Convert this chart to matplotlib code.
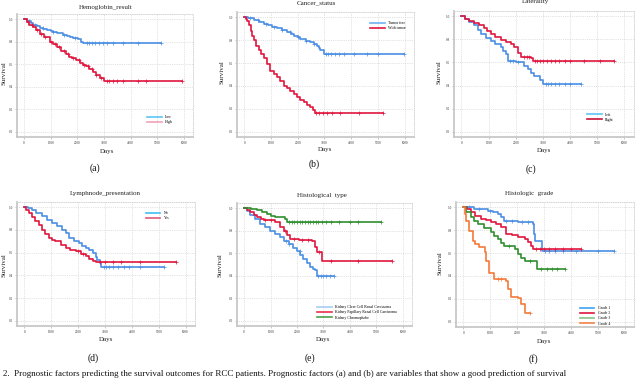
import matplotlib
matplotlib.use('Agg')
import matplotlib.pyplot as plt
from matplotlib.lines import Line2D
import numpy as np

plt.rcParams['font.family'] = ['Liberation Serif', 'DejaVu Serif']

# ---- Data ----
# (a) Hemoglobin_result
a_low_t = [0, 120, 250, 340, 480, 600, 710, 850, 1000, 1090, 1250, 1460, 1600, 1710, 1850, 2025, 2120, 2210, 2300]
a_low_s = [1.0, 0.985, 0.965, 0.947, 0.935, 0.925, 0.915, 0.905, 0.895, 0.888, 0.875, 0.86, 0.85, 0.838, 0.83, 0.82, 0.80, 0.79, 0.785]
a_low_end = 5150
a_low_c = [200, 400, 700, 1100, 1500, 1900, 2350, 2450, 2550, 2650, 2800, 2950, 3100, 3350, 3700, 4300, 5150]
a_high_t = [0, 100, 200, 340, 450, 600, 750, 960, 1100, 1250, 1400, 1590, 1700, 1800, 1960, 2100, 2200, 2340, 2450, 2590, 2700, 2840, 2990]
a_high_s = [1.0, 0.975, 0.95, 0.926, 0.90, 0.87, 0.84, 0.80, 0.775, 0.75, 0.72, 0.69, 0.665, 0.655, 0.64, 0.61, 0.595, 0.58, 0.56, 0.535, 0.50, 0.476, 0.447]
a_high_end = 5940
a_high_c = [150, 300, 500, 650, 800, 1000, 1150, 1300, 1500, 1650, 1850, 2050, 2250, 2400, 2550, 2700, 2900,
            3100, 3200, 3350, 3500, 3700, 4300, 4600, 5940]

# (b) Cancer_status
b_free_t = [0, 150, 360, 550, 730, 900, 1050, 1230, 1400, 1600, 1750, 1850, 2000, 2100, 2300, 2470, 2600, 2720, 2800, 2850, 2970]
b_free_s = [1.0, 0.99, 0.977, 0.96, 0.94, 0.93, 0.918, 0.907, 0.89, 0.87, 0.855, 0.84, 0.825, 0.81, 0.795, 0.78, 0.765, 0.75, 0.73, 0.71, 0.68]
b_free_end = 5975
b_free_c = [200, 500, 800, 1100, 1400, 1700, 2000, 2300, 2600, 3050, 3150, 3250, 3400, 3550, 3750, 4100, 4600, 5000, 5975]
b_tumor_t = [0, 50, 110, 180, 236, 300, 360, 450, 550, 640, 730, 850, 980, 1100, 1230, 1350, 1480, 1600, 1730, 1850,
             1975, 2100, 2220, 2350, 2470, 2560, 2660]
b_tumor_s = [1.0, 0.985, 0.97, 0.93, 0.883, 0.84, 0.80, 0.75, 0.71, 0.675, 0.64, 0.59, 0.534, 0.505, 0.475, 0.44, 0.40,
             0.38, 0.36, 0.33, 0.30, 0.28, 0.257, 0.235, 0.213, 0.19, 0.16]
b_tumor_end = 5180
b_tumor_c = [2700, 2800, 2950, 3100, 3300, 3600, 4300, 5180]

# (c) Laterality
c_left_t = [0, 150, 300, 470, 600, 720, 900, 1090, 1250, 1460, 1550, 1640, 1700, 2000, 2200, 2300, 2440, 2550, 2690, 2880, 3000]
c_left_s = [1.0, 0.975, 0.95, 0.92, 0.88, 0.845, 0.815, 0.787, 0.76, 0.73, 0.70, 0.67, 0.61, 0.605, 0.60, 0.57, 0.54, 0.51, 0.48, 0.45, 0.414]
c_left_end = 4400
c_left_c = [1800, 1900, 2100, 3100, 3200, 3300, 3450, 3600, 3800, 4000, 4400]
c_right_t = [0, 150, 300, 470, 650, 840, 950, 1090, 1250, 1460, 1650, 1830, 1950, 2070, 2200, 2570, 2630]
c_right_s = [1.0, 0.98, 0.96, 0.94, 0.92, 0.90, 0.87, 0.845, 0.82, 0.79, 0.775, 0.76, 0.73, 0.685, 0.647, 0.64, 0.615]
c_right_end = 5630
c_right_c = [2300, 2400, 2500, 2700, 2800, 2900, 3000, 3150, 3300, 3450, 3600, 3800, 4000, 4500, 5100, 5630]

# (d) Lymphnode_presentation
d_no_t = [0, 150, 290, 450, 660, 850, 1040, 1230, 1410, 1550, 1660, 1850, 2040, 2150, 2290, 2400, 2540, 2650, 2720, 2800, 2850]
d_no_s = [1.0, 0.99, 0.977, 0.95, 0.918, 0.89, 0.86, 0.83, 0.80, 0.77, 0.727, 0.705, 0.683, 0.66, 0.64, 0.62, 0.595,
          0.565, 0.537, 0.51, 0.472]
d_no_end = 5190
d_no_c = [2950, 3050, 3150, 3300, 3500, 3700, 3900, 4300, 5190]
d_yes_t = [0, 80, 160, 280, 410, 540, 660, 780, 910, 1040, 1160, 1350, 1540, 1700, 1910, 2100, 2290, 2420, 2540, 2660]
d_yes_s = [1.0, 0.975, 0.947, 0.91, 0.874, 0.84, 0.80, 0.765, 0.727, 0.71, 0.70, 0.67, 0.64, 0.625, 0.61, 0.59, 0.566,
           0.545, 0.522, 0.516]
d_yes_end = 5625
d_yes_c = [2000, 2200, 2800, 3000, 3300, 3600, 4300, 5625]

# (e) Histological type
e_clear_t = [0, 100, 240, 420, 610, 800, 990, 1180, 1370, 1520, 1680, 1850, 1990, 2120, 2240, 2370, 2490, 2600, 2680, 2770]
e_clear_s = [1.0, 0.97, 0.938, 0.90, 0.86, 0.83, 0.80, 0.77, 0.74, 0.71, 0.685, 0.65, 0.62, 0.585, 0.55, 0.515, 0.478,
             0.46, 0.448, 0.40]
e_clear_end = 3410
e_clear_c = [1600, 1700, 2100, 2800, 2900, 3000, 3100, 3250, 3410]
e_pap_t = [0, 120, 240, 360, 490, 620, 740, 1180, 1370, 1500, 1620, 1740, 2060, 2560, 2680, 2740, 2960]
e_pap_s = [1.0, 0.985, 0.967, 0.94, 0.92, 0.90, 0.89, 0.878, 0.834, 0.80, 0.76, 0.73, 0.715, 0.71, 0.656, 0.61, 0.53]
e_pap_end = 5600
e_pap_c = [800, 1000, 1550, 1900, 2200, 2400, 2850, 3300, 4300, 5600]
e_chromo_t = [0, 250, 490, 680, 860, 1000, 1180, 1550, 1640]
e_chromo_s = [1.0, 0.99, 0.98, 0.965, 0.95, 0.93, 0.917, 0.90, 0.878]
e_chromo_end = 5190
e_chromo_c = [1700, 1800, 1900, 2000, 2100, 2200, 2300, 2400, 2500, 2600, 2700, 2800, 2950, 3100, 3300, 3600, 4000, 4300, 5190]

# (f) Histologic grade
f_g1_t = [0, 410, 910, 1100, 1280, 1400, 1530, 2030, 2590, 2630, 2660, 2930]
f_g1_s = [1.0, 0.985, 0.97, 0.955, 0.94, 0.91, 0.883, 0.87, 0.854, 0.767, 0.708, 0.615]
f_g1_end = 5590
f_g1_c = [200, 600, 1000, 1600, 1800, 2200, 2400, 3050, 3200, 3400, 3700, 4200, 5000, 5590]
f_g2_t = [0, 150, 290, 450, 660, 850, 1030, 1200, 1410, 1600, 1800, 2030, 2280, 2400, 2530, 2590]
f_g2_s = [1.0, 0.98, 0.956, 0.925, 0.898, 0.885, 0.869, 0.85, 0.825, 0.767, 0.755, 0.738, 0.723, 0.70, 0.665, 0.636]
f_g2_end = 4380
f_g2_c = [2700, 2850, 3000, 3200, 3400, 3700, 4000, 4380]
f_g3_t = [0, 100, 290, 400, 540, 780, 1030, 1150, 1280, 1400, 1530, 1910, 2030, 2150, 2280, 2740]
f_g3_s = [1.0, 0.96, 0.912, 0.88, 0.854, 0.815, 0.78, 0.75, 0.723, 0.69, 0.665, 0.636, 0.592, 0.56, 0.534, 0.46]
f_g3_end = 3800
f_g3_c = [1700, 2500, 2900, 3100, 3300, 3500, 3800]
f_g4_t = [0, 50, 100, 220, 350, 450, 600, 790, 850, 970, 1160, 1600, 1660, 1780, 2030, 2160, 2310]
f_g4_s = [1.0, 0.94, 0.88, 0.796, 0.708, 0.68, 0.65, 0.606, 0.534, 0.43, 0.373, 0.359, 0.286, 0.213, 0.207, 0.155, 0.076]
f_g4_end = 2470
f_g4_c = [1300, 1400, 2470]

x_ticks = [0, 1000, 2000, 3000, 4000, 5000, 6000]
y_ticks = [0.0, 0.2, 0.4, 0.6, 0.8, 1.0]

BLUE = '#4a8fe3'
RED = '#e0163e'
GREEN = '#2f8f2f'
ORANGE = '#f47a3a'

W, H = 640, 379

# panels: title, label, axes box in pixels (x0, x1, ytop, ybottom), curves, legend entries
panels = [
    dict(title='Hemoglobin_result', tag='(a)', box=(17, 193, 14, 137), title_xy=(106, 7), tag_xy=(95, 168),
         days_xy=(107, 152), surv_xy=(4, 73),
         curves=[(a_low_t, a_low_s, a_low_end, a_low_c, BLUE), (a_high_t, a_high_s, a_high_end, a_high_c, RED)],
         legend=[('Low', '#5cc6f7'), ('High', '#f2a0b4')], loc='lower right', anchor=(0.90, 0.08)),
    dict(title='Cancer_status', tag='(b)', box=(237, 414, 12, 137), title_xy=(316, 3), tag_xy=(314, 164),
         days_xy=(325, 150), surv_xy=(222, 72),
         curves=[(b_free_t, b_free_s, b_free_end, b_free_c, BLUE), (b_tumor_t, b_tumor_s, b_tumor_end, b_tumor_c, RED)],
         legend=[('Tumor free', '#6fb3f2'), ('With tumor', RED)], loc='upper right', anchor=(0.97, 0.95)),
    dict(title='Laterality', tag='(c)', box=(454, 634, 11, 137), title_xy=(535, 2), tag_xy=(531, 169),
         days_xy=(544, 151), surv_xy=(439, 72),
         curves=[(c_left_t, c_left_s, c_left_end, c_left_c, BLUE), (c_right_t, c_right_s, c_right_end, c_right_c, RED)],
         legend=[('Left', '#5cc6f7'), ('Right', '#c8103a')], loc='lower right', anchor=(0.90, 0.10)),
    dict(title='Lymphnode_presentation', tag='(d)', box=(17, 195, 202, 326), title_xy=(105, 194), tag_xy=(93, 358),
         days_xy=(106, 340), surv_xy=(4, 265),
         curves=[(d_no_t, d_no_s, d_no_end, d_no_c, BLUE), (d_yes_t, d_yes_s, d_yes_end, d_yes_c, RED)],
         legend=[('No', '#3fbff2'), ('Yes', '#e2587a')], loc='upper right', anchor=(0.87, 0.95)),
    dict(title='Histological  type', tag='(e)', box=(237, 412, 203, 326), title_xy=(322, 195), tag_xy=(310, 358),
         days_xy=(323, 340), surv_xy=(220, 265),
         curves=[(e_clear_t, e_clear_s, e_clear_end, e_clear_c, BLUE), (e_pap_t, e_pap_s, e_pap_end, e_pap_c, RED),
                 (e_chromo_t, e_chromo_s, e_chromo_end, e_chromo_c, GREEN)],
         legend=[('Kidney Clear Cell Renal Carcinoma', '#a8cdf2'), ('Kidney Papillary Renal Cell Carcinoma', '#e8304c'),
                 ('Kidney Chromophobe', '#4e9e4e')], loc='lower right', anchor=(0.93, 0.03)),
    dict(title='Histologic  grade', tag='(f)', box=(456, 634, 202, 327), title_xy=(529, 194), tag_xy=(533, 359),
         days_xy=(544, 341), surv_xy=(440, 263),
         curves=[(f_g1_t, f_g1_s, f_g1_end, f_g1_c, BLUE), (f_g2_t, f_g2_s, f_g2_end, f_g2_c, RED),
                 (f_g3_t, f_g3_s, f_g3_end, f_g3_c, GREEN), (f_g4_t, f_g4_s, f_g4_end, f_g4_c, ORANGE)],
         legend=[('Grade 1', '#3ea2f2'), ('Grade 2', '#e0143e'), ('Grade 3', '#86c486'), ('Grade 4', '#f2824a')],
         loc='lower right', anchor=(0.88, -0.01)),
]

fig = plt.figure(figsize=(W / 100, H / 100), dpi=100)

for p in panels:
    x0, x1, yt, yb = p['box']
    ax = fig.add_axes([x0 / W, 1 - yb / H, (x1 - x0) / W, (yb - yt) / H])
    for t, s, end, cens, col in p['curves']:
        tt = list(t) + [end]
        ss = list(s) + [s[-1]]
        ax.step(tt, ss, where='post', color=col, lw=1.2)
        idx = np.searchsorted(t, cens, side='right') - 1
        ax.plot(cens, np.array(s)[idx], ls='none', marker='+', ms=2.5, mew=0.5, color=col)
    ax.set_xlim(-270, 6350)
    ax.set_ylim(-0.045, 1.045)
    ax.set_xticks(x_ticks)
    ax.set_yticks(y_ticks)
    ax.set_yticklabels([f'{v:.1f}' for v in y_ticks])
    ax.tick_params(labelsize=2.4, length=1.5, width=0.4, color='#999999', pad=1.5, labelcolor='#333333')
    ax.grid(True, ls=':', lw=0.5, color='#c8c8c8')
    for side in ['left', 'bottom']:
        ax.spines[side].set_color('#c4c4c4')
        ax.spines[side].set_linewidth(1.2)
    for side in ['top', 'right']:
        ax.spines[side].set_color('#cfcfcf')
        ax.spines[side].set_linestyle(':')
        ax.spines[side].set_linewidth(0.6)
    handles = [Line2D([0], [0], color=c, lw=1.2) for _, c in p['legend']]
    labels = [n for n, _ in p['legend']]
    ax.legend(handles, labels, loc=p['loc'], bbox_to_anchor=p['anchor'], frameon=False, fontsize=2.8,
              handlelength=3.8, labelspacing=0.3, handletextpad=0.8, borderpad=0.2)

    tx, ty = p['title_xy']
    fig.text(tx / W, 1 - ty / H, p['title'], ha='center', va='center', fontsize=5, color='#222222')
    dx, dy = p['days_xy']
    fig.text(dx / W, 1 - dy / H, 'Days', ha='center', va='center', fontsize=5, color='#222222')
    sx, sy = p['surv_xy']
    fig.text(sx / W, 1 - sy / H, 'Survival', ha='center', va='center', rotation=90, fontsize=5, color='#222222')
    lx, ly = p['tag_xy']
    fig.text(lx / W, 1 - ly / H, p['tag'], ha='center', va='center', fontsize=7, color='#111111')

# caption along the bottom edge
fig.text(3 / W, 0.002, '2.  Prognostic factors predicting the survival outcomes for RCC patients. '
         'Prognostic factors (a) and (b) are variables that show a good prediction of survival',
         ha='left', va='bottom', fontsize=6.5, color='#111111')

fig.savefig('out.png', dpi=100)
